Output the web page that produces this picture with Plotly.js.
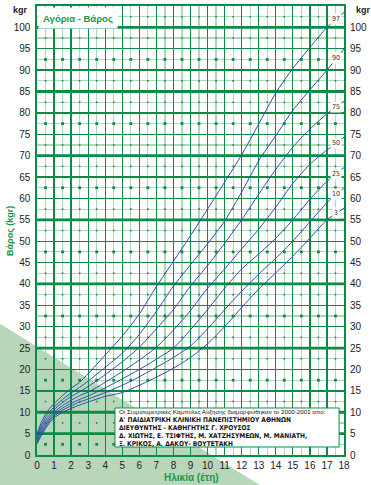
<!DOCTYPE html>
<html><head><meta charset="utf-8">
<script src="https://cdn.plot.ly/plotly-3.0.1.min.js"></script>
<style>html,body{margin:0;padding:0;background:#fff}#chart{width:371px;height:485px}</style>
</head><body><div id="chart"></div>
<script>
// Age in years
const ages = [0, 0.25, 0.5, 0.75, 1, 1.5, 2, 2.5, 3, 4, 5, 6, 7, 8, 9, 10, 11, 12, 13, 14, 15, 16, 17, 18];
// Weight percentiles (kg)
const p97 = [5.0, 7.6, 9.5, 10.9, 12.0, 13.9, 15.6, 17.0, 19.0, 23.4, 27.8, 33.0, 39.4, 45.3, 51.3, 57.5, 63.8, 70.2, 77.4, 84.7, 90.4, 95.3, 100.0, 103.5];
const p90 = [4.5, 6.9, 8.8, 10.2, 11.2, 13.0, 14.5, 15.8, 17.3, 20.5, 23.8, 28.2, 33.6, 39.5, 44.5, 49.4, 54.7, 61.5, 68.8, 74.7, 80.6, 85.4, 90.0, 95.0];
const p75 = [4.1, 6.3, 8.1, 9.5, 10.6, 12.3, 13.7, 14.8, 16.0, 18.8, 21.8, 25.2, 29.5, 34.0, 39.5, 44.3, 49.5, 55.0, 61.0, 66.8, 72.0, 76.2, 79.8, 82.7];
const p50 = [3.7, 5.8, 7.5, 8.9, 10.0, 11.6, 12.8, 13.9, 14.7, 17.0, 19.5, 22.2, 25.2, 29.2, 33.8, 39.0, 43.5, 48.2, 52.8, 58.0, 63.5, 68.0, 71.3, 74.3];
const p25 = [3.3, 5.3, 7.0, 8.4, 9.5, 11.0, 12.1, 13.0, 13.8, 15.7, 17.8, 20.0, 22.4, 25.0, 29.3, 34.0, 39.0, 43.5, 47.0, 50.7, 55.0, 59.8, 64.0, 67.2];
const p10 = [3.0, 4.9, 6.6, 8.0, 9.1, 10.5, 11.5, 12.4, 13.1, 14.6, 16.3, 18.3, 20.5, 22.8, 25.5, 29.5, 34.0, 38.3, 42.3, 46.0, 50.0, 54.5, 59.0, 62.5];
const p3  = [2.6, 4.5, 6.2, 7.6, 8.7, 10.0, 10.9, 11.7, 12.4, 13.7, 14.6, 16.3, 18.2, 20.3, 22.8, 26.0, 30.0, 34.5, 38.8, 42.6, 46.5, 50.7, 55.0, 57.7];
const seriesNames = ['3', '10', '25', '50', '75', '90', '97'];
const seriesValues = [p3, p10, p25, p50, p75, p90, p97];
const yTickVals = [0,5,10,15,20,25,30,35,40,45,50,55,60,65,70,75,80,85,90,95,100];
const xTickVals = [0,1,2,3,4,5,6,7,8,9,10,11,12,13,14,15,16,17,18];
const thickLines = [5,10,25,40,55,70,85,100];

const DARK = '#0a8c45';
const LIGHT = '#afd8bb';
const BLUE = '#2c4ea3';
const TXTGREEN = '#17994a';
const SANS = 'Liberation Sans, Arial, sans-serif';
const tickFont = {family: SANS, size: 10, color: '#222'};
const narrow = 'Liberation Sans Narrow, DejaVu Sans Condensed, Arial Narrow, sans-serif';

const traces = [];
// grid dots at half-grid intersections
const dxs = [], dys = [], bxs = [], bys = [];
for (let i = 0; i < 18; i++) {
  for (let j = 0; j < 21; j++) {
    const xv = i + 0.5, yv = j * 5 + 2.5;
    if ((j * 5) % 15 === 0) { bxs.push(xv); bys.push(yv); } else { dxs.push(xv); dys.push(yv); }
  }
}
traces.push({x: dxs, y: dys, type: 'scatter', mode: 'markers', hoverinfo: 'skip', showlegend: false,
  marker: {symbol: 'square', size: 1.6, color: DARK}});
traces.push({x: bxs, y: bys, type: 'scatter', mode: 'markers', hoverinfo: 'skip', showlegend: false,
  marker: {symbol: 'square', size: 2.8, color: DARK}});
// thick horizontal lines
thickLines.forEach(v => traces.push({x: [0, 18], y: [v, v], type: 'scatter', mode: 'lines',
  hoverinfo: 'skip', showlegend: false, line: {color: DARK, width: 2.8}}));
// percentile curves
seriesValues.forEach((vals, k) => traces.push({x: ages, y: vals, type: 'scatter', mode: 'lines',
  name: seriesNames[k], showlegend: false, line: {color: BLUE, width: 1, shape: 'spline', smoothing: 0.6}}));
// dummy for right axis
traces.push({x: [0], y: [0], yaxis: 'y2', type: 'scatter', mode: 'markers', marker: {opacity: 0}, hoverinfo: 'skip', showlegend: false});

function interp(arr, x) {
  for (let i = 0; i < ages.length - 1; i++) {
    if (x >= ages[i] && x <= ages[i + 1]) {
      const t = (x - ages[i]) / (ages[i + 1] - ages[i]);
      return arr[i] + t * (arr[i + 1] - arr[i]);
    }
  }
  return arr[arr.length - 1];
}

function ann(o) { return Object.assign({showarrow: false, xanchor: 'center', yanchor: 'middle', xref: 'paper', yref: 'paper'}, o); }
const annotations = [];
seriesValues.forEach((vals, k) => annotations.push(ann({
  x: 17.55, y: interp(vals, 17.55), xref: 'x', yref: 'y', text: seriesNames[k],
  bgcolor: '#fff', borderpad: 1, font: {family: narrow, size: 7, color: '#333'}
})));
annotations.push(ann({x: -0.055, y: 0.992, text: '<b>kgr</b>', font: {family: SANS, size: 9, color: '#222'}}));
annotations.push(ann({x: 1.062, y: 0.992, text: '<b>kgr</b>', font: {family: SANS, size: 9, color: '#222'}}));
annotations.push(ann({x: 0.132, y: 0.9735, text: '<b>Αγόρια - Βάρος</b>', bgcolor: '#fff', width: 78, height: 20, borderpad: 0,
  font: {family: SANS, size: 9.5, color: TXTGREEN}}));
annotations.push(ann({x: -0.088, y: 0.499, text: '<b>Βάρος (kgr)</b>', textangle: -90,
  font: {family: SANS, size: 9, color: TXTGREEN}}));
annotations.push(ann({x: 0.502, y: -0.05, text: '<b>Ηλικία (έτη)</b>',
  font: {family: SANS, size: 10, color: TXTGREEN}}));
const boxLines = [
  'Οι Σωματομετρικές Καμπύλες Αύξησης διαμορφώθηκαν το 2000-2001 από:',
  '<b>Α\' ΠΑΙΔΙΑΤΡΙΚΗ ΚΛΙΝΙΚΗ ΠΑΝΕΠΙΣΤΗΜΙΟΥ ΑΘΗΝΩΝ</b>',
  '<b>ΔΙΕΥΘΥΝΤΗΣ - ΚΑΘΗΓΗΤΗΣ Γ. ΧΡΟΥΣΟΣ</b>',
  '<b>Δ. ΧΙΩΤΗΣ, Ε. ΤΣΙΦΤΗΣ, Μ. ΧΑΤΖΗΣΥΜΕΩΝ, Μ. ΜΑΝΙΑΤΗ,</b>',
  '<b>Ξ. ΚΡΙΚΟΣ, Α. ΔΑΚΟΥ- ΒΟΥΤΕΤΑΚΗ</b>'
];
const boxY = [0.0947, 0.0773, 0.0599, 0.0425, 0.0251];
boxLines.forEach((t, i) => annotations.push(ann({x: 0.2638, y: boxY[i], xanchor: 'left', borderpad: 0,
  text: t, font: {family: i === 0 ? SANS : narrow, size: i === 0 ? 6.2 : 6.6, color: '#111'}})));

const shapes = [
  {type: 'path', xref: 'paper', yref: 'paper', layer: 'below',
   path: 'M -0.125 0.294 L 0.733 -0.07 L -0.125 -0.07 Z', fillcolor: '#b8d6ba', line: {width: 0}},
  {type: 'rect', xref: 'paper', yref: 'paper', layer: 'above', x0: 0.254, x1: 0.984, y0: 0.0178, y1: 0.1047,
   fillcolor: '#fff', line: {color: DARK, width: 1}}
];

const layout = {
  width: 371, height: 485,
  margin: {l: 37, r: 27, t: 6, b: 30, pad: 0},
  paper_bgcolor: '#fff', plot_bgcolor: 'rgba(0,0,0,0)',
  showlegend: false,
  xaxis: {range: [0, 18], tickmode: 'array', tickvals: xTickVals, ticks: '', tickfont: tickFont,
    showgrid: true, gridcolor: DARK, gridwidth: 1.3, zeroline: false,
    minor: {tickmode: 'linear', tick0: 0, dtick: 0.5, showgrid: true, gridcolor: LIGHT, gridwidth: 1.2},
    showline: true, linecolor: DARK, linewidth: 1.6, mirror: true, ticklabelstandoff: 0},
  yaxis: {range: [0, 105], tickmode: 'array', tickvals: yTickVals, ticks: '', tickfont: tickFont,
    showgrid: true, gridcolor: DARK, gridwidth: 1.3, zeroline: false,
    minor: {tickmode: 'linear', tick0: 0, dtick: 2.5, showgrid: true, gridcolor: LIGHT, gridwidth: 1.2},
    showline: true, linecolor: DARK, linewidth: 1.6, mirror: true, ticklabelstandoff: 3},
  yaxis2: {range: [0, 105], overlaying: 'y', side: 'right', tickmode: 'array', tickvals: yTickVals, ticks: '',
    tickfont: tickFont, showgrid: false, zeroline: false, showline: false, ticklabelstandoff: 5},
  shapes: shapes,
  annotations: annotations
};
Plotly.newPlot('chart', traces, layout, {displayModeBar: false, staticPlot: true});
</script></body></html>
